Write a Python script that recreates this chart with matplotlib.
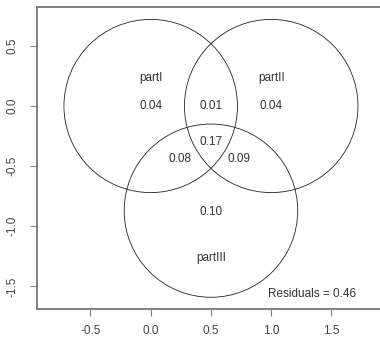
import matplotlib.pyplot as plt
from matplotlib.patches import Circle

plt.rcParams['font.family'] = ['Liberation Sans', 'DejaVu Sans']

# circle centres and radii (euler fit)
centres_x = [0.0, 1.0, 0.5]
centres_y = [0.0, 0.0, -0.87]
radii = [0.72, 0.72, 0.72]

# set names and region values
set_names = ["partI", "partII", "partIII"]
name_x = [0.0, 1.0, 0.5]
name_y = [0.23, 0.23, -1.26]
region_vals = ["0.04", "0.04", "0.10", "0.01", "0.08", "0.09", "0.17"]
region_x = [0.0, 1.0, 0.5, 0.5, 0.24, 0.73, 0.5]
region_y = [0.0, 0.0, -0.88, 0.0, -0.44, -0.44, -0.30]
residuals = 0.46

xticks = [-0.5, 0.0, 0.5, 1.0, 1.5]
yticks = [-1.5, -1.0, -0.5, 0.0, 0.5]

fig = plt.figure(figsize=(3.8, 3.38), dpi=100)
ax = fig.add_axes([37 / 380, 1 - 309.3 / 338, 345 / 380, 302 / 338])

for cx, cy, r in zip(centres_x, centres_y, radii):
    ax.add_patch(Circle((cx, cy), r, fill=False, edgecolor='#222222', linewidth=0.6))

for name, x, y in zip(set_names, name_x, name_y):
    ax.text(x, y, name, ha='center', va='center', fontsize=8.5, color='#333333')
for val, x, y in zip(region_vals, region_x, region_y):
    ax.text(x, y, val, ha='center', va='center', fontsize=8.5, color='#333333')
ax.text(1.34, -1.565, f"Residuals = {residuals:.2f}", ha='center', va='center',
        fontsize=8.5, color='#333333')

ax.set_xlim(-0.9436, 1.9195)
ax.set_ylim(-1.690, 0.8205)
ax.set_xticks(xticks)
ax.set_yticks(yticks)
ax.set_xticklabels([f"{t:.1f}" for t in xticks])
ax.set_yticklabels([f"{t:.1f}" for t in yticks], rotation=90, va='center')

for side in ['left', 'bottom', 'top']:
    ax.spines[side].set_color('#808080')
    ax.spines[side].set_linewidth(1.4)
ax.spines['right'].set_visible(False)
ax.tick_params(axis='both', colors='#808080', length=5, width=0.8,
               labelcolor='#444444', labelsize=8.5)
ax.tick_params(axis='x', pad=6.5)
ax.tick_params(axis='y', pad=8)

plt.savefig("out.png", dpi=100)
